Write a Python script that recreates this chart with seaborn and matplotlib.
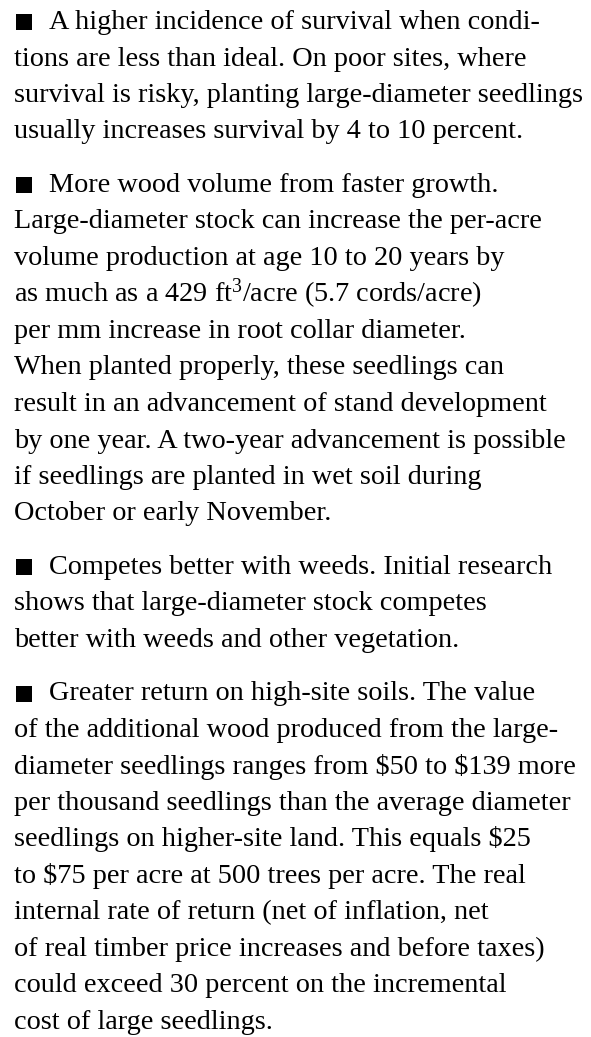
import matplotlib
matplotlib.use("Agg")
import matplotlib.pyplot as plt
import seaborn as sns
import pandas as pd

# ---- content (one list per bulleted paragraph, as laid out in the reference) ----
para_survival = [
    "A higher incidence of survival when condi-",
    "tions are less than ideal. On poor sites, where",
    "survival is risky, planting large-diameter seedlings",
    "usually increases survival by 4 to 10 percent.",
]
para_volume = [
    "More wood volume from faster growth.",
    "Large-diameter stock can increase the per-acre",
    "volume production at age 10 to 20 years by",
    r"as much as a 429 ft$^{3}$/acre (5.7 cords/acre)",
    "per mm increase in root collar diameter.",
    "When planted properly, these seedlings can",
    "result in an advancement of stand development",
    "by one year. A two-year advancement is possible",
    "if seedlings are planted in wet soil during",
    "October or early November.",
]
para_weeds = [
    "Competes better with weeds. Initial research",
    "shows that large-diameter stock competes",
    "better with weeds and other vegetation.",
]
para_return = [
    "Greater return on high-site soils. The value",
    "of the additional wood produced from the large-",
    "diameter seedlings ranges from $50 to $139 more",
    "per thousand seedlings than the average diameter",
    "seedlings on higher-site land. This equals $25",
    "to $75 per acre at 500 trees per acre. The real",
    "internal rate of return (net of inflation, net",
    "of real timber price increases and before taxes)",
    "could exceed 30 percent on the incremental",
    "cost of large seedlings.",
]
paragraphs = [para_survival, para_volume, para_weeds, para_return]
math_lines = {r"as much as a 429 ft$^{3}$/acre (5.7 cords/acre)"}

# ---- style ----
sns.set_theme(style="white")
plt.rcParams['font.family'] = ['Liberation Serif', 'DejaVu Serif']
plt.rcParams['mathtext.fontset'] = 'custom'
plt.rcParams['mathtext.rm'] = 'Liberation Serif'
plt.rcParams['mathtext.it'] = 'Liberation Serif:italic'
plt.rcParams['mathtext.bf'] = 'Liberation Serif:bold'

W, H = 591, 1037
fig = plt.figure(figsize=(W / 100, H / 100), dpi=100)
fig.patch.set_facecolor("white")
ax = fig.add_axes([0, 0, 1, 1])

LEFT, INDENT = 14, 49
BASE1, STEP, GAP = 29, 36.5, 17
FS = 20.3
BULLET_X, BULLET_DY = 23.5, 7

rows = []
y = BASE1
for p, lines in enumerate(paragraphs):
    for i, line in enumerate(lines):
        rows.append({"para": p, "line": line, "y": y, "first": i == 0})
        y += STEP
    y += GAP
df = pd.DataFrame(rows)

# bullets
b = df[df["first"]].copy()
b["bx"] = BULLET_X
b["by"] = b["y"] - BULLET_DY
sns.scatterplot(data=b, x="bx", y="by", marker="s", s=118, color="black",
                linewidth=0, legend=False, ax=ax)
ax.set_xlim(0, W)
ax.set_ylim(H, 0)
ax.axis("off")

for _, r in df.iterrows():
    x = INDENT if r["first"] else LEFT
    ax.text(x, r["y"], r["line"], fontsize=FS, color="black", va="baseline",
            ha="left", parse_math=(r["line"] in math_lines))

fig.savefig("out.png", dpi=100, facecolor="white")
